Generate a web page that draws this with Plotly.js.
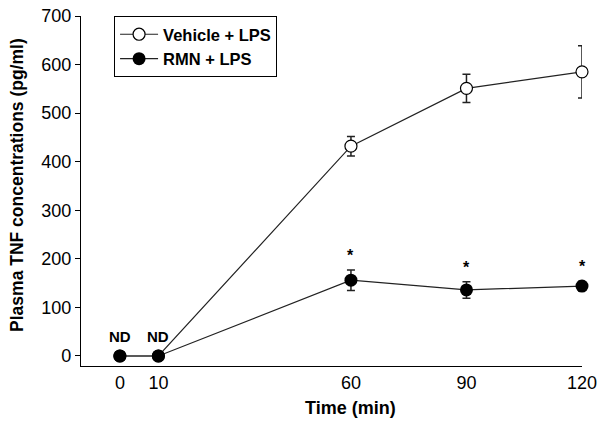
<!DOCTYPE html>
<html>
<head>
<meta charset="utf-8">
<script src="https://cdn.plot.ly/plotly-3.0.1.min.js"></script>
<style>
  html, body { margin: 0; padding: 0; background: #fff; }
  #chart { width: 603px; height: 428px; }
</style>
</head>
<body>
<div id="chart"></div>
<script>
// time points (min)
const timePoints = [0, 10, 60, 90, 120];

// Vehicle + LPS
const vehicleMean = [0, 0, 432, 551, 585];
const vehicleSem = [0, 0, 20, 29, 54];

// RMN + LPS
const rmnMean = [0, 0, 156, 136, 144];
const rmnSem = [0, 0, 21, 17, 10];

// markers: ND = not detected, * = significant
const ndTimes = [0, 10];
const starTimes = [60, 90, 120];

const FONT = "Arial, 'Liberation Sans', sans-serif";

const vehicleTrace = {
    x: timePoints,
    y: vehicleMean,
    name: 'Vehicle + LPS',
    type: 'scatter',
    mode: 'lines+markers',
    cliponaxis: false,
    line: { color: '#222', width: 1.2 },
    marker: { symbol: 'circle', size: 12, color: '#fff', line: { color: '#000', width: 1.2 } },
    error_y: { type: 'data', array: vehicleSem, visible: true, color: '#222', thickness: 1.5, width: 4 }
};

const rmnTrace = {
    x: timePoints,
    y: rmnMean,
    name: 'RMN + LPS',
    type: 'scatter',
    mode: 'lines+markers',
    cliponaxis: false,
    line: { color: '#222', width: 1.2 },
    marker: { symbol: 'circle', size: 13, color: '#000' },
    error_y: { type: 'data', array: rmnSem, visible: true, color: '#222', thickness: 1.5, width: 4 }
};

// annotations built from the arrays above
let annotations = [];
ndTimes.forEach(t => {
    annotations.push({
        x: t, y: 0, xref: 'x', yref: 'y',
        text: '<b>ND</b>', showarrow: false,
        yanchor: 'bottom', yshift: 9,
        font: { family: FONT, size: 15, color: '#000' }
    });
});
starTimes.forEach(t => {
    let i = timePoints.indexOf(t);
    annotations.push({
        x: t, y: rmnMean[i] + rmnSem[i], xref: 'x', yref: 'y',
        text: '<b>*</b>', showarrow: false,
        yanchor: 'bottom', yshift: 4,
        font: { family: FONT, size: 16, color: '#000' }
    });
});
// axis titles as annotations (both sit a little off-centre in the original)
annotations.push({
    x: 60, y: 0, xref: 'x', yref: 'paper',
    text: '<b>Time (min)</b>', showarrow: false,
    yanchor: 'top', yshift: -30,
    font: { family: FONT, size: 18, color: '#000' }
});
annotations.push({
    x: -0.128, y: 0.517, xref: 'paper', yref: 'paper',
    text: '<b>Plasma TNF concentrations (pg/ml)</b>', showarrow: false,
    textangle: -90, xanchor: 'center', yanchor: 'middle',
    font: { family: FONT, size: 17.5, color: '#000' }
});

const layout = {
    width: 603,
    height: 428,
    margin: { l: 81, r: 21, t: 16, b: 62 },
    paper_bgcolor: '#fff',
    plot_bgcolor: '#fff',
    font: { family: FONT, color: '#000' },
    showlegend: true,
    legend: {
        x: 0.066, y: 1, xanchor: 'left', yanchor: 'top',
        bordercolor: '#000', borderwidth: 1, bgcolor: '#fff',
        font: { family: FONT, size: 16.5, color: '#000', weight: 'bold' },
        itemwidth: 38,
        tracegroupgap: 0
    },
    xaxis: {
        range: [-10.1, 120],
        tickvals: timePoints,
        ticks: '',
        showgrid: false,
        zeroline: false,
        showline: true,
        linecolor: '#000',
        linewidth: 1.2,
        tickfont: { family: FONT, size: 18, color: '#000' }
    },
    yaxis: {
        range: [-20.6, 700],
        tickvals: [0, 100, 200, 300, 400, 500, 600, 700],
        ticks: 'outside',
        ticklen: 5,
        tickcolor: '#000',
        showgrid: false,
        zeroline: false,
        showline: true,
        linecolor: '#000',
        linewidth: 1.2,
        tickfont: { family: FONT, size: 18, color: '#000' }
    },
    annotations: annotations
};

Plotly.newPlot('chart', [vehicleTrace, rmnTrace], layout, { displayModeBar: false, staticPlot: true });
</script>
</body>
</html>
